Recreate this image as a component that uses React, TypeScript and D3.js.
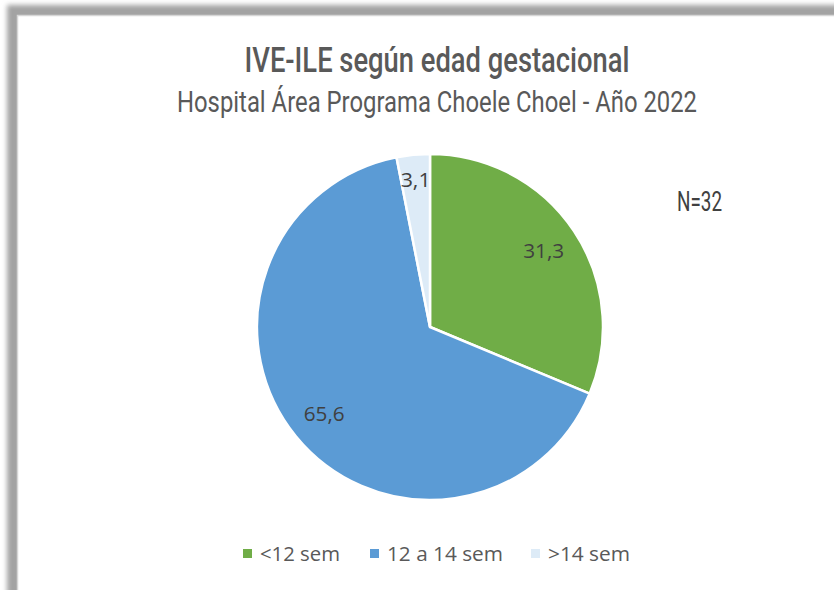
import React from "react";
import * as d3 from "d3";

const categories = ["<12 sem", "12 a 14 sem", ">14 sem"];
const values = [31.3, 65.6, 3.1];
const valueLabels = ["31,3", "65,6", "3,1"];
const colors = ["#70AD47", "#5B9BD5", "#DDEBF7"];
const legendWidths = [80, 116, 82];
const titleText = "IVE-ILE según edad gestacional";
const subtitleText = "Hospital Área Programa Choele Choel - Año 2022";
const nText = "N=32";

const W = 834;
const H = 590;

export default function App() {
  const cx = 430;
  const cy = 327;
  const r = 173;
  const pie = d3.pie<number>().sort(null).value((d) => d)(values);
  const arc = d3.arc<d3.PieArcDatum<number>>().innerRadius(0).outerRadius(r);

  const legendX = [243, 370, 531];

  return (
    <div style={{ position: "absolute", left: 0, top: 0 }}>
      <svg width={W} height={H} style={{ display: "block" }}>
        <defs>
          <filter id="sh" x="-10%" y="-10%" width="120%" height="120%">
            <feGaussianBlur stdDeviation="2.5" />
          </filter>
        </defs>
        <rect x={0} y={0} width={W} height={H} fill="#ffffff" />
        <rect x={7} y={5} width={W + 40} height={H + 40} fill="#a3a3a3" filter="url(#sh)" />
        <rect x={17.5} y={15.5} width={W + 20} height={H + 20} fill="#ffffff" stroke="#d6d6d6" strokeWidth={1.5} />

        <text
          x={437}
          y={72}
          textAnchor="middle"
          fontFamily="Roboto, 'DejaVu Sans Condensed', sans-serif"
          fontSize={35}
          fontWeight={500}
          fill="#595959"
          textLength={385}
          lengthAdjust="spacingAndGlyphs"
        >
          {titleText}
        </text>
        <text
          x={437}
          y={112}
          textAnchor="middle"
          fontFamily="Roboto, 'DejaVu Sans Condensed', sans-serif"
          fontSize={30}
          fill="#595959"
          textLength={520}
          lengthAdjust="spacingAndGlyphs"
        >
          {subtitleText}
        </text>
        <text
          x={677}
          y={211}
          fontFamily="Roboto, sans-serif"
          fontSize={27}
          fill="#404040"
          textLength={45}
          lengthAdjust="spacingAndGlyphs"
        >
          {nText}
        </text>

        <g transform={`translate(${cx},${cy})`}>
          {pie.map((p, i) => (
            <path key={i} d={arc(p) || ""} fill={colors[i]} stroke="#ffffff" strokeWidth={2.5} strokeLinejoin="round" />
          ))}
          {pie.map((p, i) => {
            const a = (p.startAngle + p.endAngle) / 2;
            const lr = p.data < 5 ? 0.855 * r : 0.79 * r;
            const x = Math.sin(a) * lr;
            const y = -Math.cos(a) * lr;
            return (
              <text
                key={"l" + i}
                x={x}
                y={y}
                dy="0.36em"
                textAnchor="middle"
                fontFamily="'Open Sans', 'Noto Sans', sans-serif"
                fontSize={20}
                fill="#404040"
                textLength={valueLabels[i].length > 3 ? 41 : 30}
                lengthAdjust="spacingAndGlyphs"
              >
                {valueLabels[i]}
              </text>
            );
          })}
        </g>

        {categories.map((c, i) => (
          <g key={c}>
            <rect x={legendX[i]} y={549} width={9} height={9} fill={colors[i]} />
            <text
              x={legendX[i] + 17}
              y={561}
              fontFamily="'Open Sans', 'Noto Sans', sans-serif"
              fontSize={20}
              fill="#595959"
              textLength={legendWidths[i]}
              lengthAdjust="spacingAndGlyphs"
            >
              {c}
            </text>
          </g>
        ))}
      </svg>
    </div>
  );
}
